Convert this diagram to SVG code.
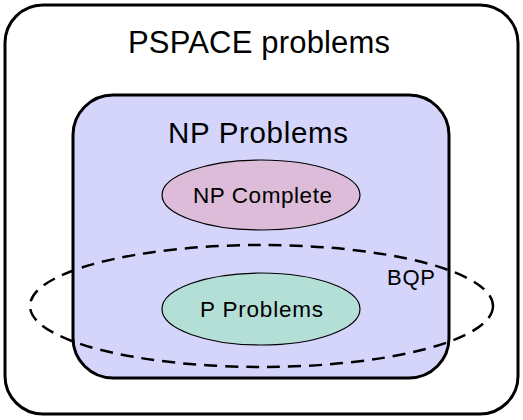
<svg xmlns="http://www.w3.org/2000/svg" width="523" height="420" viewBox="0 0 523 420">
<style>
text{font-family:"Liberation Sans",Arial,sans-serif;fill:#000;text-anchor:middle}
.box{stroke:#000;stroke-width:3}
.el{stroke:#000;stroke-width:1.2}
</style>
<rect width="523" height="420" fill="#fff"/>
<g id="pspace">
<rect class="box" x="5" y="5" width="513" height="409" rx="38" fill="#fff"/>
<text x="259" y="53" font-size="31" textLength="262" lengthAdjust="spacing">PSPACE problems</text>
</g>
<g id="np">
<rect class="box" x="73" y="95" width="376" height="283" rx="40" fill="#d5d5fc"/>
<text x="258" y="143" font-size="29.5" textLength="180" lengthAdjust="spacing">NP Problems</text>
</g>
<g id="npc">
<ellipse class="el" cx="261" cy="195" rx="99" ry="35" fill="#dcbcd8"/>
<text x="262.5" y="203" font-size="22.5" textLength="139" lengthAdjust="spacing">NP Complete</text>
</g>
<g id="p">
<ellipse class="el" cx="261" cy="309" rx="99" ry="36" fill="#b4dfd7"/>
<text x="261.5" y="317" font-size="22.5" textLength="123" lengthAdjust="spacing">P Problems</text>
</g>
<g id="bqp">
<ellipse cx="261.5" cy="306" rx="231.5" ry="61" fill="none" stroke="#000" stroke-width="2.5" stroke-dasharray="13,8"/>
<text x="411" y="285" font-size="22" textLength="48" lengthAdjust="spacing">BQP</text>
</g>
<g id="connectors"></g>
</svg>
